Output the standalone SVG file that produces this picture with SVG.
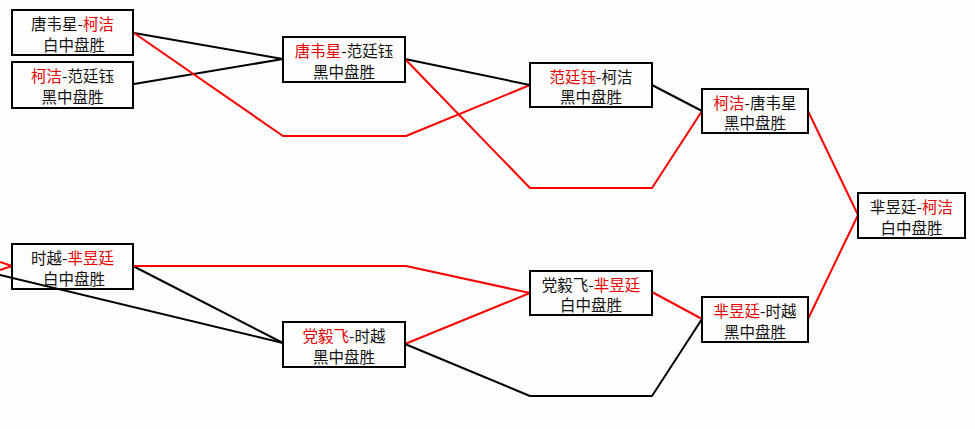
<svg xmlns="http://www.w3.org/2000/svg" width="975" height="429" viewBox="0 0 975 429">
<style>
.box{fill:none;stroke:#000;stroke-width:2;}
.t{font-family:"Noto Sans CJK SC","Liberation Sans",sans-serif;font-size:15.5px;fill:#111;text-anchor:middle;}
.r{fill:#e60000;}
.k{fill:none;stroke:#000;stroke-width:2;stroke-linejoin:round;}
.rd{fill:none;stroke:#ff0000;stroke-width:2;stroke-linejoin:round;}
</style>
<rect x="0" y="0" width="975" height="429" fill="#fdfdfd"/>
<g id="connectors">
<polyline class="k" points="134,33 283,59"/>
<polyline class="k" points="134,84 283,59"/>
<polyline class="rd" points="134,33 283,136 406,136 530,85"/>
<polyline class="k" points="405,59 530,85"/>
<polyline class="rd" points="405,59 530,188 652,188 702,111"/>
<polyline class="k" points="652,85 702,111"/>
<polyline class="rd" points="808,111 858,215"/>
<polyline class="rd" points="808,319 858,215"/>
<polyline class="rd" points="0,262 12,266"/>
<polyline class="rd" points="0,270 12,266"/>
<polyline class="k" points="0,275 283,343"/>
<polyline class="k" points="133,266 283,343"/>
<polyline class="rd" points="133,266 406,266 530,293"/>
<polyline class="rd" points="405,344 530,293"/>
<polyline class="k" points="405,344 530,396 652,396 702,319"/>
<polyline class="rd" points="652,292 702,319"/>
</g>
<g id="nodeA"><rect class="box" x="12" y="10" width="121" height="45"/><text class="t" x="72.5" y="30">唐韦星-<tspan class="r">柯洁</tspan></text><text class="t" x="74" y="51">白中盘胜</text></g>
<g id="nodeB"><rect class="box" x="12" y="62" width="121" height="46"/><text class="t" x="72.5" y="82"><tspan class="r">柯洁</tspan>-范廷钰</text><text class="t" x="72.5" y="103">黑中盘胜</text></g>
<g id="nodeC"><rect class="box" x="283" y="37" width="122" height="45"/><text class="t" x="344" y="57"><tspan class="r">唐韦星</tspan>-范廷钰</text><text class="t" x="344" y="78">黑中盘胜</text></g>
<g id="nodeD"><rect class="box" x="530" y="63" width="122" height="44"/><text class="t" x="591" y="83"><tspan class="r">范廷钰</tspan>-柯洁</text><text class="t" x="591" y="103">黑中盘胜</text></g>
<g id="nodeE"><rect class="box" x="702" y="89" width="106" height="44"/><text class="t" x="755" y="109"><tspan class="r">柯洁</tspan>-唐韦星</text><text class="t" x="755" y="129">黑中盘胜</text></g>
<g id="nodeF"><rect class="box" x="858" y="193" width="107" height="45"/><text class="t" x="911.5" y="213">芈昱廷-<tspan class="r">柯洁</tspan></text><text class="t" x="911.5" y="234">白中盘胜</text></g>
<g id="nodeG"><rect class="box" x="12" y="244" width="121" height="45"/><text class="t" x="72.5" y="264">时越-<tspan class="r">芈昱廷</tspan></text><text class="t" x="74" y="285">白中盘胜</text></g>
<g id="nodeH"><rect class="box" x="283" y="322" width="122" height="45"/><text class="t" x="344" y="342"><tspan class="r">党毅飞</tspan>-时越</text><text class="t" x="344" y="363">黑中盘胜</text></g>
<g id="nodeI"><rect class="box" x="530" y="271" width="122" height="44"/><text class="t" x="591" y="291">党毅飞-<tspan class="r">芈昱廷</tspan></text><text class="t" x="591" y="311">白中盘胜</text></g>
<g id="nodeJ"><rect class="box" x="702" y="297" width="106" height="45"/><text class="t" x="755" y="317"><tspan class="r">芈昱廷</tspan>-时越</text><text class="t" x="755" y="338">黑中盘胜</text></g>
</svg>
